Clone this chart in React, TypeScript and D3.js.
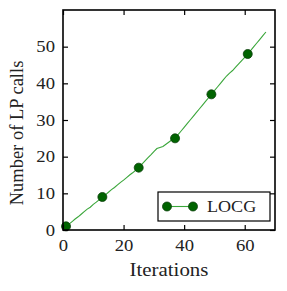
import React, { useEffect, useRef } from "react";
import * as d3 from "d3";

// LP calls per iteration
const iterations = [
  1, 2, 3, 4, 5, 6, 7, 8, 9, 10, 11, 12, 13, 14, 15, 16, 17, 18, 19, 20, 21, 22,
  23, 24, 25, 26, 27, 28, 29, 30, 31, 32, 33, 34, 35, 36, 37, 38, 39, 40, 41, 42,
  43, 44, 45, 46, 47, 48, 49, 50, 51, 52, 53, 54, 55, 56, 57, 58, 59, 60, 61, 62,
  63, 64, 65, 66, 67,
];
const lpCalls = [
  1, 1.6, 2.3, 3, 3.6, 4.3, 5, 5.7, 6.2, 7, 7.6, 8.3, 9, 9.6, 10.3, 11, 11.6,
  12.3, 13, 13.6, 14.3, 15, 15.6, 16.3, 17, 17.9, 18.8, 19.7, 20.5, 21.4, 22.2,
  22.5, 22.8, 23.4, 24, 24.6, 25, 26, 27, 28, 29, 30, 31, 32, 33, 34, 35, 36, 37,
  38, 39, 40, 41, 42, 42.8, 43.5, 44.4, 45.3, 46.2, 47.1, 48, 49, 50, 51, 52, 53,
  54,
];
const markEvery = 12;
const xTicks = [0, 20, 40, 60];
const yTicks = [0, 10, 20, 30, 40, 50];
const seriesName = "LOCG";

const width = 287;
const height = 291;
const margin = { top: 10, right: 12, bottom: 61, left: 63 };
const innerWidth = width - margin.left - margin.right;
const innerHeight = height - margin.top - margin.bottom;
const font = '"Liberation Serif", "Times New Roman", "DejaVu Serif", serif';
const sx = 1.13; // the source glyphs are a little wide

export default function App() {
  const svgRef = useRef<SVGSVGElement>(null);

  useEffect(() => {
    const svg = d3.select(svgRef.current);
    svg.selectAll("*").remove();

    const x = d3.scaleLinear().domain([0, 70]).range([0, innerWidth]);
    const y = d3.scaleLinear().domain([0, 60]).range([innerHeight, 0]);

    const g = svg
      .append("g")
      .attr("transform", `translate(${margin.left},${margin.top})`);

    const data = iterations.map((it, i) => ({ it, v: lpCalls[i] }));

    // line
    g.append("path")
      .datum(data)
      .attr("fill", "none")
      .attr("stroke", "#3aa63a")
      .attr("stroke-width", 1.1)
      .attr("d", d3.line<any>().x((d) => x(d.it)).y((d) => y(d.v)));

    // markers
    g.selectAll("circle.m")
      .data(data.filter((_, i) => i % markEvery === 0))
      .join("circle")
      .attr("class", "m")
      .attr("cx", (d) => x(d.it))
      .attr("cy", (d) => y(d.v))
      .attr("r", 4.5)
      .attr("fill", "#006400")
      .attr("stroke", "#0a3d0a")
      .attr("stroke-width", 0.8);

    // axes with inward ticks on every side
    const tickLen = 5;
    const styleAxis = (sel: any, showLabels: boolean) => {
      sel.select(".domain").remove();
      sel.selectAll("line").attr("stroke", "#000").attr("stroke-width", 1.2);
      sel
        .selectAll("text")
        .attr("fill", "#222")
        .attr("font-family", font)
        .attr("font-size", 16.5)
        .attr("transform", function (this: any) {
          const tx = +this.getAttribute("x") || 0;
          return `translate(${tx * (1 - sx)},0) scale(${sx},1)`;
        })
        .style("display", showLabels ? null : "none");
    };

    g.append("g")
      .attr("transform", `translate(0,${innerHeight})`)
      .call(d3.axisBottom(x).tickValues(xTicks).tickSizeInner(-tickLen).tickSizeOuter(0).tickPadding(9))
      .call((s) => styleAxis(s, true));
    g.append("g")
      .call(d3.axisTop(x).tickValues(xTicks).tickSizeInner(-tickLen).tickSizeOuter(0))
      .call((s) => styleAxis(s, false));
    g.append("g")
      .call(d3.axisLeft(y).tickValues(yTicks).tickSizeInner(-tickLen).tickSizeOuter(0).tickPadding(8))
      .call((s) => styleAxis(s, true));
    g.append("g")
      .attr("transform", `translate(${innerWidth},0)`)
      .call(d3.axisRight(y).tickValues(yTicks).tickSizeInner(-tickLen).tickSizeOuter(0))
      .call((s) => styleAxis(s, false));

    // frame
    g.append("rect")
      .attr("width", innerWidth)
      .attr("height", innerHeight)
      .attr("fill", "none")
      .attr("stroke", "#000")
      .attr("stroke-width", 1.6);

    // axis labels
    svg
      .append("text")
      .attr("transform", `translate(${margin.left + innerWidth / 2},276) scale(${sx},1)`)
      .attr("text-anchor", "middle")
      .attr("font-family", font)
      .attr("font-size", 18.5)
      .attr("fill", "#222")
      .text("Iterations");
    svg
      .append("text")
      .attr("transform", `translate(23,133) rotate(-90)`)
      .attr("text-anchor", "middle")
      .attr("font-family", font)
      .attr("font-size", 18.5)
      .attr("fill", "#222")
      .text("Number of LP calls");

    // legend
    const lg = g.append("g").attr("transform", `translate(${158 - margin.left},${192 - margin.top})`);
    lg.append("rect")
      .attr("width", 112)
      .attr("height", 29)
      .attr("fill", "#fff")
      .attr("stroke", "#000")
      .attr("stroke-width", 1.2);
    lg.append("line")
      .attr("x1", 9)
      .attr("x2", 35)
      .attr("y1", 14.5)
      .attr("y2", 14.5)
      .attr("stroke", "#3aa63a")
      .attr("stroke-width", 1.1);
    lg.selectAll("circle")
      .data([9, 35])
      .join("circle")
      .attr("cx", (d) => d)
      .attr("cy", 14.5)
      .attr("r", 4.5)
      .attr("fill", "#006400")
      .attr("stroke", "#0a3d0a")
      .attr("stroke-width", 0.8);
    lg.append("text")
      .attr("transform", `translate(49,20) scale(${sx},1)`)
      .attr("font-family", font)
      .attr("font-size", 16)
      .attr("fill", "#222")
      .text(seriesName);
  }, []);

  return (
    <svg
      ref={svgRef}
      width={width}
      height={height}
      style={{ position: "absolute", left: 0, top: 0, background: "#fff" }}
    />
  );
}
